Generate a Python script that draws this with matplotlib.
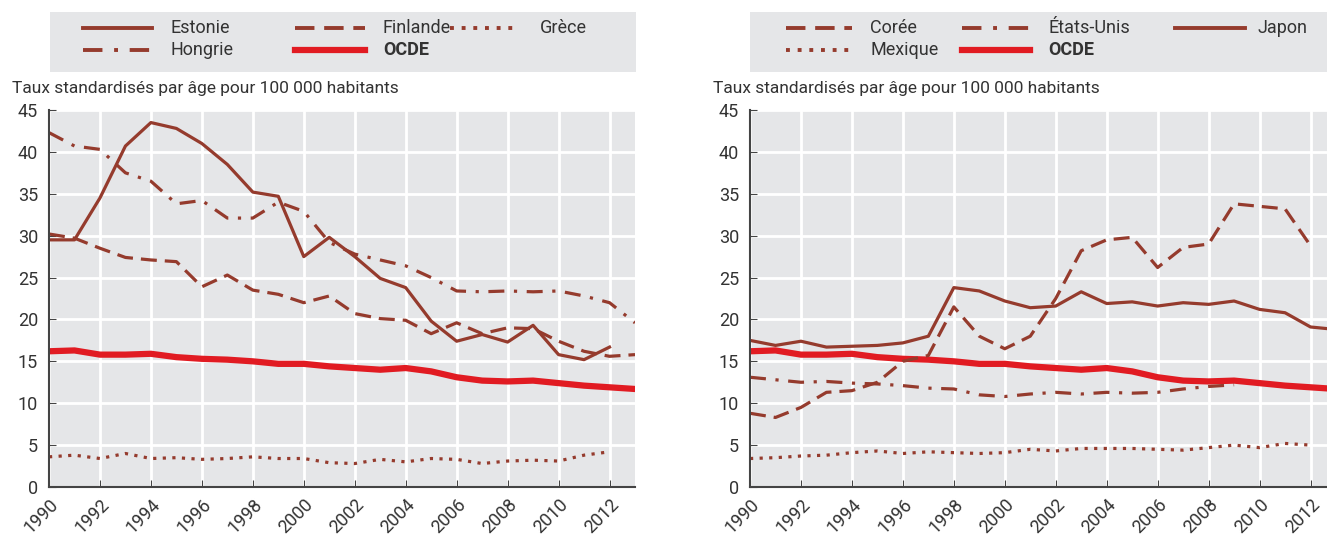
import matplotlib
matplotlib.use("Agg")
import matplotlib.pyplot as plt
from matplotlib.lines import Line2D

plt.rcParams['font.family'] = ['Roboto', 'DejaVu Sans']

years = list(range(1990, 2014))

# left panel
estonie = [29.5, 29.5, 34.5, 40.7, 43.5, 42.8, 41.0, 38.5, 35.2, 34.7, 27.5, 29.8,
           27.5, 24.9, 23.8, 19.8, 17.4, 18.2, 17.3, 19.3, 15.8, 15.2, 16.7]
finlande = [30.2, 29.7, 28.5, 27.4, 27.1, 26.9, 23.9, 25.3, 23.5, 23.0, 22.0, 22.8,
            20.7, 20.1, 19.9, 18.3, 19.6, 18.3, 19.0, 18.9, 17.4, 16.2, 15.6, 15.8]
grece = [3.6, 3.8, 3.4, 4.0, 3.4, 3.5, 3.3, 3.4, 3.6, 3.4, 3.4, 2.9,
         2.8, 3.3, 3.0, 3.4, 3.3, 2.8, 3.1, 3.2, 3.1, 3.8, 4.2]
hongrie = [42.3, 40.7, 40.3, 37.5, 36.5, 33.8, 34.2, 32.1, 32.1, 34.0, 32.9, 29.2,
           27.8, 27.1, 26.4, 25.0, 23.4, 23.3, 23.4, 23.3, 23.4, 22.8, 22.0, 19.6]
ocde = [16.2, 16.3, 15.8, 15.8, 15.9, 15.5, 15.3, 15.2, 15.0, 14.7, 14.7, 14.4,
        14.2, 14.0, 14.2, 13.8, 13.1, 12.7, 12.6, 12.7, 12.4, 12.1, 11.9, 11.7]

# right panel
coree = [8.8, 8.3, 9.5, 11.3, 11.5, 12.5, 15.0, 15.7, 21.5, 18.0, 16.5, 18.0,
         22.5, 28.2, 29.5, 29.8, 26.2, 28.6, 29.0, 33.8, 33.5, 33.2, 28.8]
etats_unis = [13.1, 12.8, 12.5, 12.6, 12.4, 12.3, 12.1, 11.8, 11.7, 11.0, 10.8, 11.1,
              11.3, 11.1, 11.3, 11.2, 11.3, 11.7, 12.0, 12.2]
japon = [17.5, 16.9, 17.4, 16.7, 16.8, 16.9, 17.2, 18.0, 23.8, 23.4, 22.2, 21.4,
         21.6, 23.3, 21.9, 22.1, 21.6, 22.0, 21.8, 22.2, 21.2, 20.8, 19.1, 18.8]
mexique = [3.4, 3.5, 3.7, 3.8, 4.1, 4.3, 4.0, 4.2, 4.1, 4.0, 4.1, 4.5,
           4.3, 4.6, 4.6, 4.6, 4.5, 4.4, 4.7, 5.0, 4.7, 5.2, 5.0]

brown = '#953b2d'
red = '#e11b22'
bg = '#e5e6e8'
txt = '#333333'

W, H = 1327, 539
fig = plt.figure(figsize=(W / 100, H / 100), dpi=100)

solid = '-'
dash = (0, (5, 2.5))
dot = (0, (1, 2))
dashdot = (0, (5, 3, 1, 3))


def setup(ax):
    ax.set_facecolor(bg)
    ax.set_xlim(1990, 2013)
    ax.set_ylim(0, 45)
    ax.set_yticks(range(0, 46, 5))
    ax.set_xticks(range(1990, 2013, 2))
    ax.set_xticklabels([str(y) for y in range(1990, 2013, 2)], rotation=45,
                       ha='right', va='top', rotation_mode='anchor')
    ax.grid(True, color='white', linewidth=2)
    ax.set_axisbelow(True)
    for s in ['top', 'right']:
        ax.spines[s].set_visible(False)
    for s in ['left', 'bottom']:
        ax.spines[s].set_color('#444444')
        ax.spines[s].set_linewidth(1.5)
    ax.tick_params(axis='y', direction='in', length=5, color='#444444', labelsize=13,
                   labelcolor=txt, pad=8)
    ax.tick_params(axis='x', direction='in', length=5, color='#444444', labelsize=13,
                   labelcolor=txt, pad=6)


top_px, bot_px = 110, 487
ax1 = fig.add_axes([49 / W, 1 - bot_px / H, (635 - 49) / W, (bot_px - top_px) / H])
ax2 = fig.add_axes([750 / W, 1 - bot_px / H, (1336 - 750) / W, (bot_px - top_px) / H])
setup(ax1)
setup(ax2)

# (label, values, colour, width, style) in legend order
series1 = [('Estonie', estonie, brown, 2.3, solid),
           ('Hongrie', hongrie, brown, 2.3, dashdot),
           ('Finlande', finlande, brown, 2.3, dash),
           ('OCDE', ocde, red, 4.5, solid),
           ('Grèce', grece, brown, 2.3, dot)]
series2 = [('Corée', coree, brown, 2.3, dash),
           ('Mexique', mexique, brown, 2.3, dot),
           ('États-Unis', etats_unis, brown, 2.3, dashdot),
           ('OCDE', ocde, red, 4.5, solid),
           ('Japon', japon, brown, 2.3, solid)]


def fx(px):
    return px / W


def fy(py):
    return 1 - py / H


# legend layout in pixels: (handle start, handle end, text x, row y)
slots1 = [(83, 152, 170, 28), (83, 152, 170, 50), (295, 365, 383, 28),
          (295, 365, 383, 50), (450, 520, 540, 28)]
slots2 = [(786, 852, 870, 28), (786, 852, 870, 50), (962, 1030, 1048, 28),
          (962, 1030, 1048, 50), (1175, 1245, 1258, 28)]

for ax, series, slots, bx0, bx1 in [(ax1, series1, slots1, 50, 636),
                                    (ax2, series2, slots2, 750, 1327)]:
    for lab, vals, col, lw, ls in series:
        ax.plot(years[:len(vals)], vals, color=col, lw=lw, ls=ls, label=lab,
                zorder=1.5 if lab == 'OCDE' else 2)
    fig.patches.append(plt.Rectangle((fx(bx0), fy(72)), fx(bx1 - bx0), 60 / H,
                                     transform=fig.transFigure, facecolor=bg,
                                     edgecolor='none', zorder=0))
    for (lab, vals, col, lw, ls), (h0, h1, tx, ty) in zip(series, slots):
        fig.add_artist(Line2D([fx(h0), fx(h1)], [fy(ty), fy(ty)],
                              transform=fig.transFigure, color=col,
                              lw=lw + 0.5 if lab != 'OCDE' else lw, ls=ls))
        fig.text(fx(tx), fy(ty), lab, fontsize=13, color=txt, va='center', ha='left',
                 fontweight='bold' if lab == 'OCDE' else 'normal')

fig.text(fx(12), fy(89), 'Taux standardisés par âge pour 100 000 habitants',
         fontsize=12.5, color=txt, va='center', ha='left')
fig.text(fx(713), fy(89), 'Taux standardisés par âge pour 100 000 habitants',
         fontsize=12.5, color=txt, va='center', ha='left')

fig.savefig('out.png', dpi=100)
